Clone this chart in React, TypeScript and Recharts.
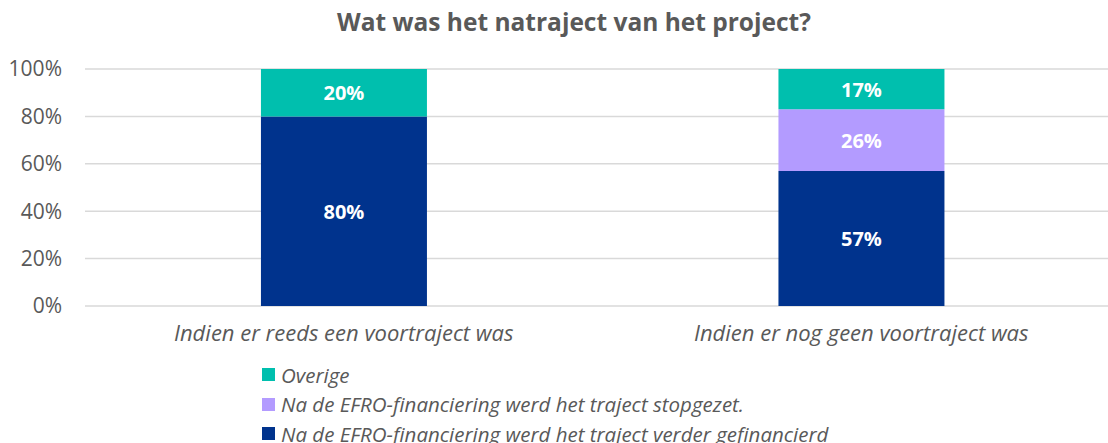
import React from "react";
import { BarChart, Bar, XAxis, YAxis, CartesianGrid, LabelList } from "recharts";

const categories = ["Indien er reeds een voortraject was", "Indien er nog geen voortraject was"];
const verderGefinancierd = [80, 57];
const stopgezet = [0, 26];
const overige = [20, 17];
const yTicks = [0, 20, 40, 60, 80, 100];

const seriesNames = {
  verder: "Na de EFRO-financiering werd het traject verder gefinancierd",
  stop: "Na de EFRO-financiering werd het traject stopgezet.",
  overige: "Overige",
};
const colors = { verder: "#00338D", stop: "#B39BFF", overige: "#00BFAE" };

const data = categories.map((c, i) => ({
  name: c,
  verder: verderGefinancierd[i],
  stop: stopgezet[i],
  overige: overige[i],
}));

const FONT = "'Open Sans', sans-serif";
const GREY = "#595959";

const renderLabel = (props: any) => {
  const { x, y, width, height, value } = props;
  if (!value) return null;
  return (
    <text
      x={x + width / 2}
      y={y + height / 2}
      fill="#ffffff"
      fontWeight={700}
      fontSize={20}
      fontFamily={FONT}
      textAnchor="middle"
      dominantBaseline="central"
    >
      {value}%
    </text>
  );
};

const legendItems = [
  { key: "overige", label: seriesNames.overige },
  { key: "stop", label: seriesNames.stop },
  { key: "verder", label: seriesNames.verder },
];

export default function App() {
  return (
    <div style={{ position: "absolute", left: 0, top: 0, width: 1108, height: 443, overflow: "hidden", background: "#fff" }}>
      <div
        style={{
          position: "absolute",
          left: 0,
          width: 1148,
          top: 5,
          textAlign: "center",
          fontFamily: FONT,
          fontWeight: 700,
          fontSize: 24.5,
          color: GREY,
        }}
      >
        Wat was het natraject van het project?
      </div>
      <div style={{ position: "absolute", left: 0, top: 0 }}>
        <BarChart
          width={1120}
          height={443}
          data={data}
          margin={{ top: 69, right: 0, bottom: 97, left: 0 }}
          barCategoryGap="34%"
        >
          <CartesianGrid horizontal vertical={false} stroke="#d9d9d9" strokeWidth={1.5} />
          <XAxis
            dataKey="name"
            axisLine={false}
            tickLine={false}
            tickSize={0}
            tickMargin={19}
            height={40}
            tick={{ fill: GREY, fontSize: 22, fontStyle: "italic", fontFamily: FONT }}
          />
          <YAxis
            domain={[0, 100]}
            ticks={yTicks}
            tickFormatter={(v) => `${v}%`}
            axisLine={false}
            tickLine={false}
            tickSize={0}
            tickMargin={23}
            width={85}
            tick={{ fill: GREY, fontSize: 21, fontFamily: FONT }}
          />
          <Bar dataKey="verder" stackId="a" fill={colors.verder} isAnimationActive={false}>
            <LabelList dataKey="verder" content={renderLabel} />
          </Bar>
          <Bar dataKey="stop" stackId="a" fill={colors.stop} isAnimationActive={false}>
            <LabelList dataKey="stop" content={renderLabel} />
          </Bar>
          <Bar dataKey="overige" stackId="a" fill={colors.overige} isAnimationActive={false}>
            <LabelList dataKey="overige" content={renderLabel} />
          </Bar>
        </BarChart>
      </div>
      <div style={{ position: "absolute", left: 262, top: 360, fontFamily: FONT, fontSize: 20.5, fontStyle: "italic", color: GREY }}>
        {legendItems.map((it) => (
          <div key={it.key} style={{ display: "flex", alignItems: "center", height: 29.5, whiteSpace: "nowrap" }}>
            <span style={{ display: "inline-block", width: 13, height: 13, background: (colors as any)[it.key], marginRight: 6 }} />
            <span>{it.label}</span>
          </div>
        ))}
      </div>
    </div>
  );
}
